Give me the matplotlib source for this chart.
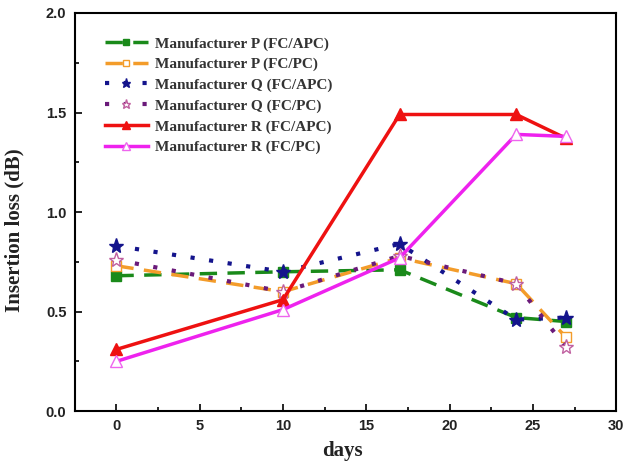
import matplotlib
matplotlib.use("Agg")
import matplotlib.pyplot as plt
from matplotlib.ticker import MultipleLocator, FormatStrFormatter

days = [0, 10, 17, 24, 27]
p_apc = [0.68, 0.70, 0.71, 0.47, 0.45]
p_pc = [0.73, 0.60, 0.77, 0.64, 0.37]
q_apc = [0.83, 0.70, 0.84, 0.46, 0.47]
q_pc = [0.76, 0.60, 0.78, 0.64, 0.32]
r_apc = [0.31, 0.56, 1.49, 1.49, 1.37]
r_pc = [0.25, 0.51, 0.77, 1.39, 1.38]
labels = ["Manufacturer P (FC/APC)", "Manufacturer P (FC/PC)",
          "Manufacturer Q (FC/APC)", "Manufacturer Q (FC/PC)",
          "Manufacturer R (FC/APC)", "Manufacturer R (FC/PC)"]

fig = plt.figure(figsize=(6.23, 4.63), dpi=100)
ax = fig.add_axes([0.120, 0.112, 0.869, 0.860])

ax.plot(days, p_apc, color="#1a8a1a", ls=(0, (5, 3)), lw=2.5, marker="s",
        ms=7, mfc="#1a8a1a", mec="#1a8a1a", label=labels[0])
ax.plot(days, p_pc, color="#f39c2a", ls=(0, (5, 3)), lw=2.5, marker="s",
        ms=7, mfc="white", mec="#f39c2a", label=labels[1])
ax.plot(days, q_apc, color="#14148c", ls=(0, (1, 3.5)), lw=3, marker="*",
        ms=11, mfc="#14148c", mec="#14148c", label=labels[2])
ax.plot(days, q_pc, color="#6a1a7a", ls=(0, (1, 3.5)), lw=3, marker="*",
        ms=11, mfc="white", mec="#c060a0", mew=1, label=labels[3])
ax.plot(days, r_apc, color="#ee1111", ls="-", lw=2.5, marker="^",
        ms=9, mfc="#ee1111", mec="#ee1111", label=labels[4])
ax.plot(days, r_pc, color="#ee22ee", ls="-", lw=2.5, marker="^",
        ms=9, mfc="white", mec="#ee66ee", mew=1, label=labels[5])

ax.set_xlim(-2.5, 30)
ax.set_ylim(0, 2.0)
ax.xaxis.set_major_locator(MultipleLocator(5))
ax.xaxis.set_minor_locator(MultipleLocator(2.5))
ax.yaxis.set_major_locator(MultipleLocator(0.5))
ax.yaxis.set_minor_locator(MultipleLocator(0.25))
ax.yaxis.set_major_formatter(FormatStrFormatter("%.1f"))
ax.tick_params(which="both", direction="in", top=False, right=False)
ax.tick_params(which="major", length=5, width=1.2, pad=6)
ax.tick_params(which="minor", length=3, width=1.2)
for s in ax.spines.values():
    s.set_linewidth(1.5)
for t in ax.get_xticklabels() + ax.get_yticklabels():
    t.set_fontfamily("Liberation Sans")
    t.set_fontweight("bold")
    t.set_fontsize(10.5)
    t.set_color("#222222")

ax.set_xlabel("days", family="Liberation Serif", weight="bold", fontsize=15, color="#222222")
ax.set_ylabel("Insertion loss (dB)", family="Liberation Serif", weight="bold", fontsize=15, color="#222222")
ax.xaxis.set_label_coords(0.494, -0.075)
ax.yaxis.set_label_coords(-0.092, 0.455)

leg = ax.legend(loc="upper left", bbox_to_anchor=(0.03, 0.975), frameon=False,
                prop={"family": "Liberation Serif", "weight": "bold", "size": 11},
                handlelength=2.8, labelspacing=0.45, handletextpad=0.5, markerscale=0.6)
for t in leg.get_texts():
    t.set_color("#333333")

fig.savefig("out.png", dpi=100)
